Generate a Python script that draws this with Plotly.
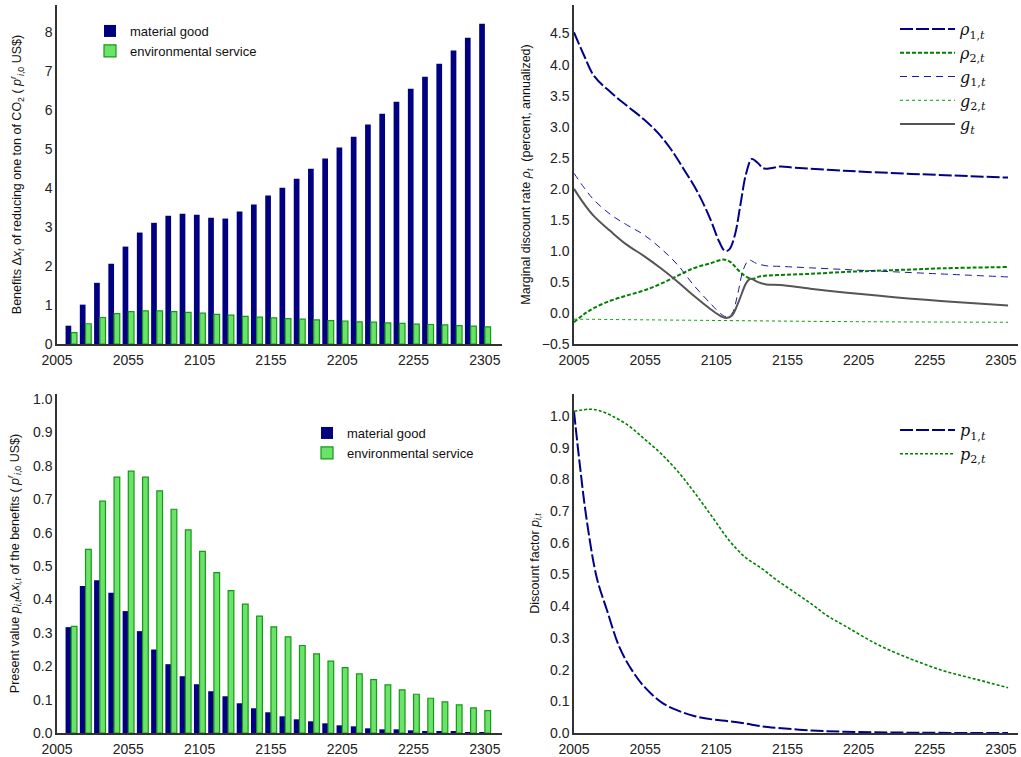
import plotly.graph_objects as go

# ---------------- data ----------------
bar_years = list(range(2015, 2306, 10))

benefit_material = [0.47, 1.01, 1.57, 2.06, 2.50, 2.86, 3.11, 3.29, 3.34, 3.32,
                    3.24, 3.22, 3.40, 3.58, 3.81, 4.01, 4.24, 4.50, 4.76, 5.04,
                    5.32, 5.63, 5.91, 6.22, 6.55, 6.86, 7.19, 7.53, 7.86, 8.22]
benefit_env = [0.29, 0.52, 0.68, 0.78, 0.83, 0.85, 0.85, 0.83, 0.81, 0.79,
               0.76, 0.74, 0.71, 0.69, 0.67, 0.65, 0.64, 0.62, 0.60, 0.59,
               0.57, 0.56, 0.54, 0.53, 0.51, 0.50, 0.49, 0.47, 0.46, 0.44]

pv_material = [0.317, 0.44, 0.457, 0.42, 0.365, 0.305, 0.25, 0.206, 0.17, 0.146,
               0.125, 0.11, 0.089, 0.074, 0.062, 0.05, 0.041, 0.035, 0.029, 0.023,
               0.020, 0.014, 0.011, 0.011, 0.008, 0.005, 0.005, 0.005, 0.003, 0.003]
pv_env = [0.319, 0.55, 0.694, 0.766, 0.784, 0.766, 0.725, 0.67, 0.608, 0.544,
          0.48, 0.426, 0.386, 0.35, 0.318, 0.288, 0.262, 0.237, 0.215, 0.196,
          0.177, 0.16, 0.144, 0.129, 0.116, 0.104, 0.093, 0.084, 0.075, 0.067]

rho1_years = [2005, 2012, 2019, 2031, 2042, 2054, 2064, 2073, 2082, 2092, 2101, 2107,
              2111, 2114, 2118, 2122, 2126, 2130, 2134, 2138, 2143, 2150, 2160, 2195, 2242, 2310]
rho1 = [4.52, 4.15, 3.82, 3.55, 3.34, 3.12, 2.90, 2.64, 2.32, 1.94, 1.50, 1.15,
        1.00, 1.02, 1.25, 1.75, 2.25, 2.48, 2.42, 2.33, 2.33, 2.36, 2.34, 2.29, 2.24, 2.18]

rho2_years = [2005, 2012, 2019, 2031, 2042, 2054, 2066, 2078, 2089, 2101, 2110, 2115,
              2120, 2125, 2130, 2136, 2148, 2171, 2195, 2218, 2242, 2265, 2310]
rho2 = [-0.15, -0.02, 0.08, 0.20, 0.28, 0.36, 0.47, 0.60, 0.72, 0.80, 0.86, 0.82,
        0.70, 0.60, 0.55, 0.59, 0.61, 0.63, 0.66, 0.68, 0.70, 0.72, 0.74]

g1_years = [2005, 2012, 2019, 2031, 2042, 2054, 2066, 2078, 2089, 2101, 2108, 2112,
            2116, 2120, 2124, 2128, 2133, 2140, 2150, 2195, 2242, 2310]
g1 = [2.25, 2.02, 1.82, 1.58, 1.42, 1.26, 1.04, 0.77, 0.45, 0.15, -0.01, -0.06,
      -0.01, 0.30, 0.70, 0.85, 0.80, 0.76, 0.75, 0.70, 0.65, 0.58]

g2_years = [2005, 2100, 2200, 2310]
g2 = [-0.10, -0.12, -0.14, -0.15]

g_years = [2005, 2012, 2019, 2031, 2042, 2054, 2066, 2078, 2089, 2101, 2108, 2112,
           2116, 2121, 2126, 2129, 2134, 2140, 2150, 2171, 2195, 2218, 2242, 2265, 2310]
g_total = [2.00, 1.76, 1.56, 1.31, 1.10, 0.92, 0.72, 0.50, 0.28, 0.06, -0.05, -0.08,
           -0.04, 0.20, 0.48, 0.55, 0.50, 0.46, 0.45, 0.39, 0.33, 0.28, 0.23, 0.19, 0.12]

p1_years = [2005, 2009, 2014, 2021, 2028, 2037, 2046, 2055, 2067, 2079, 2090, 2102,
            2114, 2125, 2137, 2148, 2172, 2195, 2242, 2310]
p1 = [1.015, 0.85, 0.67, 0.49, 0.39, 0.27, 0.196, 0.143, 0.095, 0.069, 0.053, 0.043,
      0.037, 0.030, 0.021, 0.016, 0.008, 0.004, 0.001, 0.0]

p2_years = [2005, 2016, 2023, 2032, 2044, 2055, 2067, 2079, 2090, 2102, 2114, 2125,
            2137, 2148, 2160, 2172, 2183, 2195, 2218, 2242, 2265, 2288, 2310]
p2 = [1.015, 1.022, 1.017, 1.0, 0.968, 0.926, 0.878, 0.82, 0.757, 0.683, 0.608, 0.556,
      0.519, 0.481, 0.444, 0.407, 0.370, 0.339, 0.28, 0.233, 0.196, 0.169, 0.143]

x_ticks = [2005, 2055, 2105, 2155, 2205, 2255, 2305]

# ---------------- style ----------------
NAVY = "#000080"
GFILL = "#6be36b"
GEDGE = "#149a14"
FONT = "Liberation Sans, Arial, sans-serif"
SERIF = "DejaVu Serif, Liberation Serif, serif"

fig = go.Figure()

# Top-left bars
fig.add_trace(go.Bar(x=bar_years, y=benefit_material, width=4, offset=-4,
                     marker=dict(color=NAVY, line=dict(width=0)),
                     name="material good", xaxis="x", yaxis="y", legend="legend"))
fig.add_trace(go.Bar(x=bar_years, y=benefit_env, width=4, offset=0,
                     marker=dict(color=GFILL, line=dict(color=GEDGE, width=1.2)),
                     name="environmental service", xaxis="x", yaxis="y", legend="legend"))

# Top-right lines
fig.add_trace(go.Scatter(x=rho1_years, y=rho1, mode="lines", line_shape="spline",
                         line=dict(color="#00008b", width=2, dash="13px,3px"),
                         name="<i>ρ</i><sub>1,<i>t</i></sub>", xaxis="x2", yaxis="y2", legend="legend2"))
fig.add_trace(go.Scatter(x=rho2_years, y=rho2, mode="lines", line_shape="spline",
                         line=dict(color="#008000", width=2, dash="4px,2px"),
                         name="<i>ρ</i><sub>2,<i>t</i></sub>", xaxis="x2", yaxis="y2", legend="legend2"))
fig.add_trace(go.Scatter(x=g1_years, y=g1, mode="lines", line_shape="spline",
                         line=dict(color="#1a1aa0", width=1, dash="7px,5px"),
                         name="<i>g</i><sub>1,<i>t</i></sub>", xaxis="x2", yaxis="y2", legend="legend2"))
fig.add_trace(go.Scatter(x=g2_years, y=g2, mode="lines", line_shape="spline",
                         line=dict(color="#00a000", width=1, dash="3px,3px"),
                         name="<i>g</i><sub>2,<i>t</i></sub>", xaxis="x2", yaxis="y2", legend="legend2"))
fig.add_trace(go.Scatter(x=g_years, y=g_total, mode="lines", line_shape="spline",
                         line=dict(color="#555555", width=2),
                         name="<i>g</i><sub><i>t</i></sub>", xaxis="x2", yaxis="y2", legend="legend2"))

# Bottom-left bars
fig.add_trace(go.Bar(x=bar_years, y=pv_material, width=4, offset=-4,
                     marker=dict(color=NAVY, line=dict(width=0)),
                     name="material good", xaxis="x3", yaxis="y3", legend="legend3"))
fig.add_trace(go.Bar(x=bar_years, y=pv_env, width=4, offset=0,
                     marker=dict(color=GFILL, line=dict(color=GEDGE, width=1.2)),
                     name="environmental service", xaxis="x3", yaxis="y3", legend="legend3"))

# Bottom-right lines
fig.add_trace(go.Scatter(x=p1_years, y=p1, mode="lines", line_shape="spline",
                         line=dict(color="#00008b", width=2, dash="13px,3px"),
                         name="<i>p</i><sub>1,<i>t</i></sub>", xaxis="x4", yaxis="y4", legend="legend4"))
fig.add_trace(go.Scatter(x=p2_years, y=p2, mode="lines", line_shape="spline",
                         line=dict(color="#008000", width=1.6, dash="3px,2px"),
                         name="<i>p</i><sub>2,<i>t</i></sub>", xaxis="x4", yaxis="y4", legend="legend4"))

W, H = 1021, 757
def fx(px): return px / W
def fy(py): return 1 - py / H

axis_common = dict(showline=True, linecolor="#333333", linewidth=1.5, showgrid=False,
                   zeroline=False, ticks="", tickfont=dict(family=FONT, size=14, color="#222222"),
                   automargin=False, fixedrange=True)

def xax(domain, anchor):
    d = dict(axis_common)
    d.update(domain=domain, anchor=anchor, range=[2005, 2317], tickmode="array",
             tickvals=x_ticks, ticktext=[str(t) for t in x_ticks], ticklabelstandoff=2)
    return d

def yax(domain, anchor, rng, dtick, title, standoff, fmt=None):
    d = dict(axis_common)
    d.update(domain=domain, anchor=anchor, range=rng, dtick=dtick, tick0=0,
             title=dict(text=title, font=dict(family=FONT, size=12.5, color="#111111"),
                        standoff=standoff))
    if fmt:
        d["tickformat"] = fmt
    return d

top_dom = [fy(344), fy(5)]
bot_dom = [fy(733), fy(394)]
left_dom = [fx(57), fx(502)]
right_dom = [fx(574), fx(1018)]

legend_bar = dict(font=dict(family=FONT, size=13, color="#111111"), bgcolor="rgba(0,0,0,0)",
                  xanchor="left", yanchor="top", tracegroupgap=0)
legend_line = dict(font=dict(family=SERIF, size=16, color="#111111"), bgcolor="rgba(0,0,0,0)",
                   xanchor="left", yanchor="top", itemwidth=55, tracegroupgap=0)

fig.update_layout(
    width=W, height=H,
    margin=dict(l=0, r=0, t=0, b=0),
    paper_bgcolor="white", plot_bgcolor="white",
    barmode="overlay",
    showlegend=True,
    xaxis=xax(left_dom, "y"),
    yaxis=yax(top_dom, "x", [0, 8.7], 1,
              "Benefits Δ<i>x<sub>t</sub></i> of reducing one ton of CO<sub>2</sub> ( <i>p</i><sup><i>r</i></sup><sub><i>i</i>,0</sub> US$)", 20),
    xaxis2=xax(right_dom, "y2"),
    yaxis2=yax(top_dom, "x2", [-0.5, 4.96], 0.5,
               "Marginal discount rate <i>ρ<sub>t</sub></i>  (percent, annualized)", 8, ".1f"),
    xaxis3=xax(left_dom, "y3"),
    yaxis3=yax(bot_dom, "x3", [0, 1.015], 0.1,
               "Present value <i>p<sub>i,t</sub></i>Δ<i>x<sub>i,t</sub></i> of the benefits ( <i>p</i><sup><i>r</i></sup><sub><i>i</i>,0</sub> US$)", 11, ".1f"),
    xaxis4=xax(right_dom, "y4"),
    yaxis4=yax(bot_dom, "x4", [0, 1.07], 0.1, "Discount factor <i>p<sub>i,t</sub></i>", 8, ".1f"),
    legend=dict(legend_bar, x=fx(90), y=fy(16)),
    legend2=dict(legend_line, x=fx(895), y=fy(12)),
    legend3=dict(legend_bar, x=fx(307), y=fy(418)),
    legend4=dict(legend_line, x=fx(895), y=fy(413)),
)

fig.write_html("out.html", config={"displayModeBar": False},
               post_script="document.body.style.margin='0';document.body.style.overflow='hidden';")
